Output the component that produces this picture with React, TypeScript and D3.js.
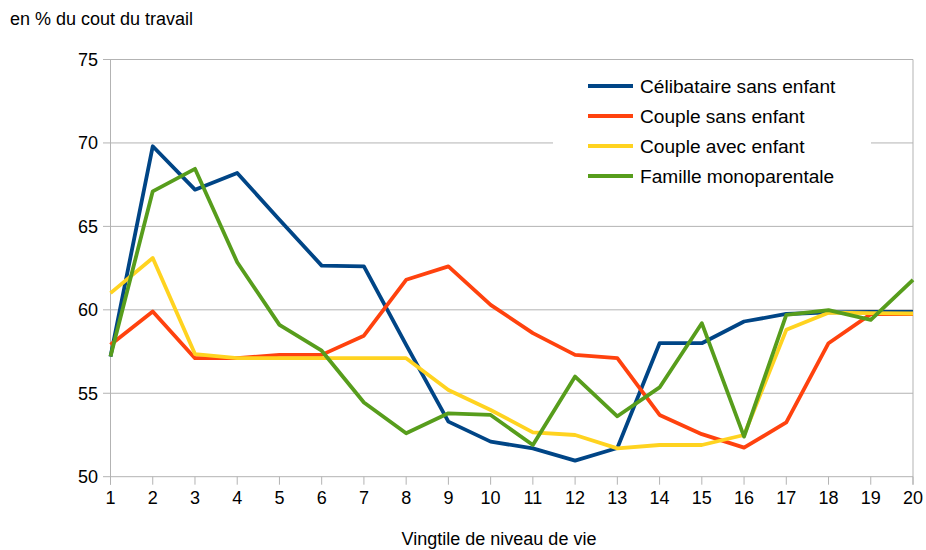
import React from "react";
import * as d3 from "d3";

const categories = d3.range(1, 21);
const seriesNames = ["Célibataire sans enfant", "Couple sans enfant", "Couple avec enfant", "Famille monoparentale"];
const celibataire = [57.2, 69.8, 67.2, 68.2, 65.4, 62.65, 62.6, 57.9, 53.3, 52.1, 51.7, 50.96, 51.72, 58.0, 58.0, 59.3, 59.75, 59.85, 59.87, 59.87];
const coupleSans = [57.9, 59.9, 57.1, 57.1, 57.3, 57.3, 58.45, 61.8, 62.6, 60.3, 58.6, 57.3, 57.1, 53.7, 52.55, 51.74, 53.25, 58.0, 59.74, 59.74];
const coupleAvec = [61.0, 63.1, 57.35, 57.1, 57.1, 57.1, 57.1, 57.1, 55.2, 54.0, 52.66, 52.5, 51.7, 51.9, 51.9, 52.5, 58.8, 59.83, 59.8, 59.78];
const monoparentale = [57.2, 67.1, 68.45, 62.85, 59.1, 57.55, 54.45, 52.6, 53.8, 53.7, 51.9, 56.0, 53.62, 55.35, 59.2, 52.4, 59.7, 59.98, 59.4, 61.8];
const yTicks = [50, 55, 60, 65, 70, 75];
const colors = ["#004586", "#ff420e", "#ffd320", "#579d1c"];
const yTitle = "en % du cout du travail";
const xTitle = "Vingtile de niveau de vie";

export default function App() {
  const data = [celibataire, coupleSans, coupleAvec, monoparentale];
  const x = d3.scaleLinear().domain([1, 20]).range([110.5, 913]);
  const y = d3.scaleLinear().domain([50, 75]).range([476.7, 59.5]);
  const line = d3
    .line<number>()
    .x((_, i) => x(categories[i]))
    .y((d) => y(d));
  const font = "'Liberation Sans', Arial, sans-serif";
  return (
    <svg
      width={926}
      height={550}
      style={{ position: "absolute", left: 0, top: 0, background: "#fff" }}
      fontFamily={font}
    >
      <rect x={0} y={0} width={926} height={550} fill="#fff" />
      {yTicks.map((t) => (
        <g key={t}>
          <line x1={103} x2={913} y1={y(t)} y2={y(t)} stroke="#b3b3b3" strokeWidth={1} />
          <text x={98} y={y(t)} dy="0.35em" textAnchor="end" fontSize={18} fill="#000">
            {t}
          </text>
        </g>
      ))}
      <line x1={x(1)} x2={x(1)} y1={y(75)} y2={y(50) + 8} stroke="#b3b3b3" strokeWidth={1} />
      <line x1={x(20)} x2={x(20)} y1={y(75)} y2={y(50) + 8} stroke="#b3b3b3" strokeWidth={1} />
      {categories.map((c) => (
        <g key={c}>
          <line x1={x(c)} x2={x(c)} y1={y(50)} y2={y(50) + 8} stroke="#b3b3b3" strokeWidth={1} />
          <text x={x(c)} y={504} textAnchor="middle" fontSize={18} fill="#000">
            {c}
          </text>
        </g>
      ))}
      <rect x={553} y={66} width={318} height={130} fill="#fff" />
      {data.map((s, i) => (
        <path
          key={i}
          d={line(s) || ""}
          fill="none"
          stroke={colors[i]}
          strokeWidth={3.8}
          strokeLinejoin="round"
        />
      ))}
      {seriesNames.map((n, i) => (
        <g key={n} transform={`translate(0, ${86 + i * 30})`}>
          <line x1={588} x2={633} y1={0} y2={0} stroke={colors[i]} strokeWidth={3.8} />
          <text x={640} y={0} dy="0.35em" fontSize={19.1} fill="#000">
            {n}
          </text>
        </g>
      ))}
      <text x={10} y={25} fontSize={18} fill="#000">
        {yTitle}
      </text>
      <text x={499} y={545} textAnchor="middle" fontSize={18} fill="#000">
        {xTitle}
      </text>
    </svg>
  );
}
